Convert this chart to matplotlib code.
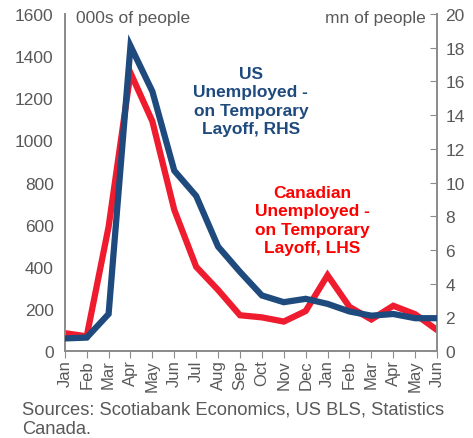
import matplotlib.pyplot as plt

plt.rcParams['font.family'] = ['Liberation Sans', 'DejaVu Sans']

# months from Jan 2020 to Jun 2021
months = ['Jan', 'Feb', 'Mar', 'Apr', 'May', 'Jun', 'Jul', 'Aug', 'Sep', 'Oct', 'Nov', 'Dec',
          'Jan', 'Feb', 'Mar', 'Apr', 'May', 'Jun']
# Canada, 000s of people (LHS)
canada = [85, 70, 590, 1320, 1090, 670, 400, 290, 170, 160, 140, 190, 360, 210, 150, 215, 175, 100]
# US, mn of people (RHS)
us = [0.75, 0.8, 2.2, 18.1, 15.4, 10.7, 9.2, 6.2, 4.7, 3.3, 2.9, 3.1, 2.8, 2.35, 2.1, 2.2, 1.95, 1.95]

grey = '#595959'
red = '#EE1C2E'
blue = '#1F4A7D'

fig = plt.figure(figsize=(4.73, 4.39), dpi=100)
ax = fig.add_axes([0.137, 0.198, 0.787, 0.768])
ax2 = ax.twinx()

x = list(range(len(months)))
ax.plot(x, canada, color=red, lw=4.5, solid_joinstyle='miter', zorder=2)
ax2.plot(x, us, color=blue, lw=4.5, solid_joinstyle='miter', zorder=3)

ax.set_ylim(0, 1600)
ax.set_yticks(range(0, 1601, 200))
ax2.set_ylim(0, 20)
ax2.set_yticks(range(0, 21, 2))
ax.set_xlim(0, len(months) - 1)
ax.set_xticks(x)
ax.set_xticklabels(months, rotation=90)

for a in (ax, ax2):
    a.spines['top'].set_visible(False)
    for s in ('left', 'right', 'bottom'):
        a.spines[s].set_color('#8c8c8c')
        a.spines[s].set_linewidth(1.3)
ax.tick_params(axis='y', length=0, labelsize=12.5, labelcolor=grey, pad=8)
ax.tick_params(axis='x', direction='out', length=5, color='#8c8c8c', labelsize=12, labelcolor=grey, pad=1)
ax2.tick_params(axis='y', direction='in', length=5, color='#8c8c8c', labelsize=12.5, labelcolor=grey, pad=6)
ax2.set_zorder(ax.get_zorder() + 1)

ax.text(0.03, 0.99, '000s of people', transform=ax.transAxes, ha='left', va='center',
        fontsize=12.5, color=grey)
ax2.text(0.97, 0.99, 'mn of people', transform=ax.transAxes, ha='right', va='center',
         fontsize=12.5, color=grey)

ax.text(0.5, 0.742, 'US\nUnemployed -\non Temporary\nLayoff, RHS',
        transform=ax.transAxes, ha='center', va='center', fontsize=12.5, fontweight='bold',
        color=blue, linespacing=1.27)
ax.text(0.664, 0.389, 'Canadian\nUnemployed -\non Temporary\nLayoff, LHS',
        transform=ax.transAxes, ha='center', va='center', fontsize=12.5, fontweight='bold',
        color='#FF0000', linespacing=1.27)

fig.text(0.047, 0.044, 'Sources: Scotiabank Economics, US BLS, Statistics\nCanada.',
         ha='left', va='center', fontsize=13.2, color=grey, linespacing=1.25)

fig.savefig('out.png', dpi=100)
